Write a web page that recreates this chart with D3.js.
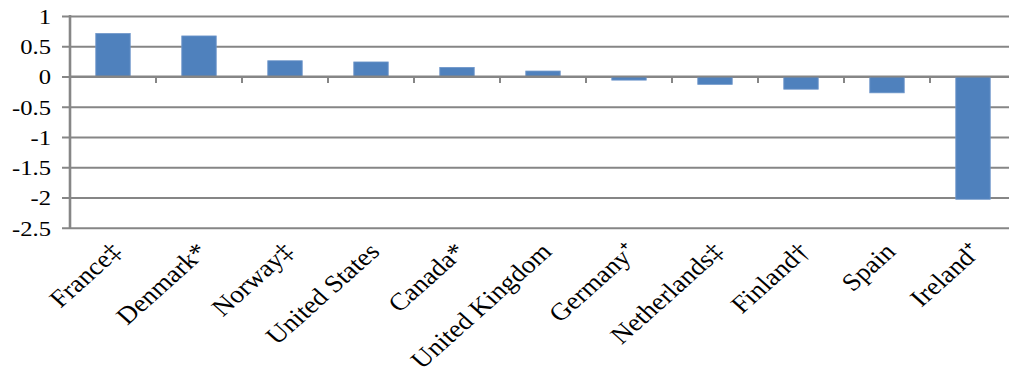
<!DOCTYPE html>
<html>
<head>
<meta charset="utf-8">
<script src="https://cdn.jsdelivr.net/npm/d3@7/dist/d3.min.js"></script>
<style>
  html, body { margin: 0; padding: 0; background: #ffffff; }
  svg { display: block; }
  text { font-family: "Liberation Serif", "Times New Roman", serif; fill: #000; }
</style>
</head>
<body>
<svg id="chart"></svg>
<script>
// Country labels (with footnote marks) and their values
const categories = [
  "France‡", "Denmark*", "Norway‡", "United States", "Canada*",
  "United Kingdom", "Germany⁺", "Netherlands‡", "Finland†", "Spain", "Ireland⁺"
];
const values = [0.71, 0.67, 0.26, 0.24, 0.15, 0.09, -0.06, -0.13, -0.21, -0.27, -2.03];
const yTickValues = [1, 0.5, 0, -0.5, -1, -1.5, -2, -2.5];
const yTickLabels = ["1", "0.5", "0", "-0.5", "-1", "-1.5", "-2", "-2.5"];

// The drawing is laid out in a slightly narrower coordinate space and widened to the page.
const W = 1009, H = 380;
const SX = 1.12;
const VW = W / SX;

const svg = d3.select("#chart")
  .attr("width", W)
  .attr("height", H)
  .attr("viewBox", `0 0 ${VW} ${H}`)
  .attr("preserveAspectRatio", "none");

const plotLeft = 70 / SX;
const step = 86 / SX;
const plotTop = 16, plotBottom = 227.7;

const x = d3.scaleBand()
  .domain(categories)
  .range([plotLeft, plotLeft + step * categories.length])
  .paddingInner(0.6)
  .paddingOuter(0.3);

const y = d3.scaleLinear()
  .domain([-2.5, 1])
  .range([plotBottom, plotTop]);

const gridColor = "#868686";

// Horizontal gridlines with the value axis labels
const yAxis = d3.axisLeft(y)
  .tickValues(yTickValues)
  .tickFormat((d, i) => yTickLabels[i])
  .tickSizeInner(-(VW - plotLeft))
  .tickSizeOuter(0)
  .tickPadding(0);

const gy = svg.append("g")
  .attr("transform", `translate(${plotLeft},0)`)
  .call(yAxis);
gy.select(".domain").remove();
gy.selectAll(".tick line")
  .attr("x1", -8 / SX)
  .attr("stroke", gridColor)
  .attr("stroke-width", 1.9);
gy.selectAll(".tick text")
  .attr("x", -19 / SX)
  .attr("dy", "0.34em")
  .attr("font-size", 22)
  .attr("font-family", "Liberation Serif, Times New Roman, serif")
  .attr("fill", "#000");

// Bars
svg.append("g")
  .selectAll("rect")
  .data(categories)
  .join("rect")
  .attr("x", d => x(d))
  .attr("width", x.bandwidth())
  .attr("y", (d, i) => y(Math.max(0, values[i])))
  .attr("height", (d, i) => Math.abs(y(values[i]) - y(0)))
  .attr("fill", "#4f81bd")
  .attr("stroke", "#6d95c9")
  .attr("stroke-width", 0.8);

// Zero line and category boundary ticks
const y0 = y(0);
svg.append("line")
  .attr("x1", plotLeft).attr("x2", VW)
  .attr("y1", y0).attr("y2", y0)
  .attr("stroke", gridColor)
  .attr("stroke-width", 1.9);

const boundaries = categories.slice(1).map(c => x(c) - x.step() * 0.3);
svg.append("g")
  .selectAll("line")
  .data(boundaries)
  .join("line")
  .attr("x1", d => d).attr("x2", d => d)
  .attr("y1", y0).attr("y2", y0 + 6.5)
  .attr("stroke", gridColor)
  .attr("stroke-width", 2 / SX);

// Value axis line
svg.append("line")
  .attr("x1", plotLeft).attr("x2", plotLeft)
  .attr("y1", plotTop - 0.95).attr("y2", plotBottom + 0.95)
  .attr("stroke", gridColor)
  .attr("stroke-width", 2.6 / SX);

// Rotated category labels
svg.append("g")
  .selectAll("text")
  .data(categories)
  .join("text")
  .attr("text-anchor", "end")
  .attr("font-size", 24.5)
  .attr("transform", d => `translate(${x(d) + x.bandwidth() / 2 + 10 / SX},${253}) rotate(-45)`)
  .text(d => d);
</script>
</body>
</html>
